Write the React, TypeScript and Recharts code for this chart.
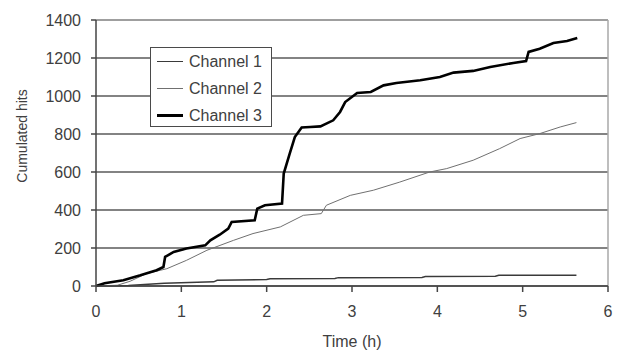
import {
  CartesianGrid,
  Legend,
  Line,
  LineChart,
  ReferenceLine,
  XAxis,
  YAxis,
} from "recharts";

// cumulated hits per channel (time in hours)
const ch1Time = [0, 0.38, 0.8, 1.38, 1.42, 2.0, 2.04, 2.8, 2.84, 3.82, 3.86, 4.68, 4.72, 5.63];
const ch1Hits = [0, 3, 14, 22, 30, 34, 38, 39, 44, 45, 50, 51, 57, 57];

const ch2Time = [0, 0.25, 0.4, 0.59, 0.83, 1.06, 1.3, 1.61, 1.84, 2.16, 2.43, 2.64, 2.7, 2.98, 3.25, 3.56, 3.91, 4.11, 4.42, 4.73, 4.97, 5.2, 5.44, 5.63];
const ch2Hits = [0, 4, 25, 65, 91, 135, 188, 240, 276, 311, 372, 381, 425, 477, 504, 547, 600, 618, 662, 723, 776, 802, 837, 860];

const ch3Time = [
  0, 0.1, 0.32, 0.52, 0.71, 0.79, 0.81, 0.91, 1.06, 1.28, 1.34, 1.45, 1.55, 1.59, 1.86, 1.89,
  1.98, 2.18, 2.2, 2.27, 2.33, 2.41, 2.51, 2.63, 2.78, 2.86, 2.92, 3.06, 3.22, 3.37, 3.52, 3.8,
  4.03, 4.19, 4.42, 4.62, 4.89, 5.04, 5.07, 5.2, 5.36, 5.52, 5.64,
];
const ch3Hits = [
  0, 15, 30, 56, 83, 100, 153, 179, 197, 214, 240, 270, 302, 337, 346, 407,
  425, 434, 592, 697, 784, 834, 837, 840, 872, 916, 968, 1016, 1021, 1056, 1068, 1083,
  1100, 1123, 1132, 1153, 1174, 1184, 1232, 1249, 1279, 1289, 1305,
];

const xTicks = [0, 1, 2, 3, 4, 5, 6];
const yTicks = [0, 200, 400, 600, 800, 1000, 1200, 1400];

const series = [
  { name: "Channel 1", time: ch1Time, hits: ch1Hits, color: "#3a3a3a", width: 1.5 },
  { name: "Channel 2", time: ch2Time, hits: ch2Hits, color: "#707070", width: 1 },
  { name: "Channel 3", time: ch3Time, hits: ch3Hits, color: "#000000", width: 2.6 },
];

const FONT = "'Liberation Sans', Arial, sans-serif";
const TEXT = "#404040";

function LegendBox() {
  return (
    <div
      style={{
        width: 120,
        height: 78,
        border: "1.5px solid #4a4a4a",
        background: "#fff",
        fontFamily: FONT,
        fontSize: 16,
        color: TEXT,
        boxSizing: "content-box",
      }}
    >
      {series.map((s) => (
        <div key={s.name} style={{ height: 27, display: "flex", alignItems: "center", marginTop: 0 }}>
          <div style={{ width: 26, height: s.width, background: s.color, marginLeft: 6, marginRight: 6 }} />
          <span>{s.name}</span>
        </div>
      ))}
    </div>
  );
}

export default function App() {
  return (
    <div style={{ position: "absolute", left: 0, top: 0, background: "#fff" }}>
      <LineChart width={621} height={351} margin={{ top: 20, right: 13, bottom: 0, left: 0 }}>
        <CartesianGrid horizontal vertical={false} stroke="#5a5a5a" strokeWidth={1.5} />
        <XAxis
          type="number"
          dataKey="t"
          domain={[0, 6]}
          ticks={xTicks}
          height={65}
          stroke="#444"
          strokeWidth={1.5}
          tickSize={6}
          tickMargin={14}
          tick={{ fill: TEXT, fontSize: 16, fontFamily: FONT }}
          allowDuplicatedCategory={false}
          label={{ value: "Time (h)", position: "insideBottom", offset: 4, fill: TEXT, fontSize: 16, fontFamily: FONT }}
        />
        <YAxis
          type="number"
          domain={[0, 1400]}
          ticks={yTicks}
          width={96}
          stroke="#444"
          strokeWidth={1.5}
          tickSize={5}
          tickMargin={10}
          tick={{ fill: TEXT, fontSize: 16, fontFamily: FONT }}
          label={{
            content: () => (
              <text
                x={27}
                y={136}
                transform="rotate(-90 27 136)"
                textAnchor="middle"
                fill={TEXT}
                fontSize={14}
                fontFamily={FONT}
              >
                Cumulated hits
              </text>
            ),
          }}
        />
        <ReferenceLine y={1400} stroke="#a8a8a8" strokeWidth={1.5} />
        <ReferenceLine x={6} stroke="#a8a8a8" strokeWidth={1.5} />
        {series.map((s) => (
          <Line
            key={s.name}
            name={s.name}
            data={s.time.map((t, i) => ({ t, v: s.hits[i] }))}
            dataKey="v"
            type="linear"
            stroke={s.color}
            strokeWidth={s.width}
            dot={false}
            activeDot={false}
            isAnimationActive={false}
          />
        ))}
        <Legend
          layout="vertical"
          align="center"
          verticalAlign="middle"
          wrapperStyle={{ left: 150, top: 47, width: "auto" }}
          content={() => <LegendBox />}
        />
      </LineChart>
    </div>
  );
}
